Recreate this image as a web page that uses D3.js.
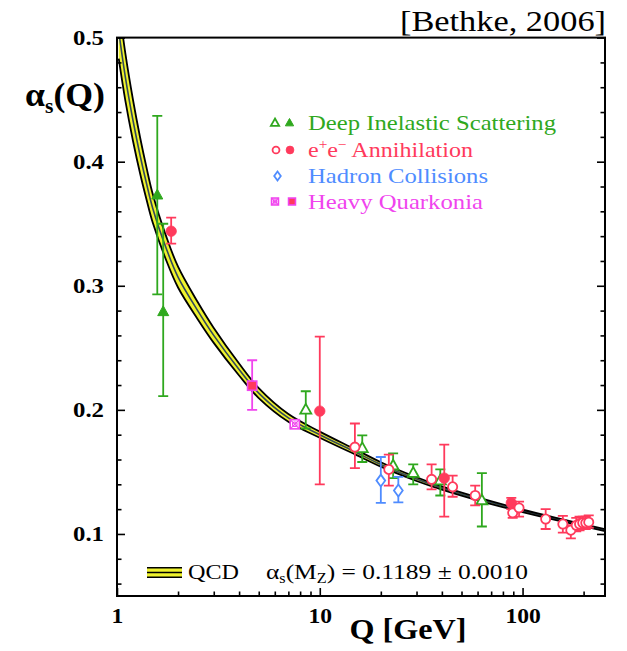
<!DOCTYPE html>
<html>
<head>
<meta charset="utf-8">
<script src="https://cdn.jsdelivr.net/npm/d3@7"></script>
<style>
  body { margin: 0; background: #fff; }
  svg { display: block; }
  text { font-family: "Liberation Serif", "Times New Roman", serif; }
</style>
</head>
<body>
<svg id="chart" width="627" height="651"></svg>
<script>
// QCD running coupling: central value and half-width of the band
const qcdQ     = [1.02, 1.1, 1.2, 1.3, 1.4, 1.5, 1.75, 2, 2.5, 3, 4, 5, 7, 10, 15, 20, 30, 40, 60, 91.2, 150, 255];
const qcdAlpha = [0.505, 0.468, 0.433, 0.405, 0.382, 0.3625, 0.330, 0.307, 0.280, 0.260, 0.2325, 0.2135, 0.1935, 0.1800, 0.1660, 0.1560, 0.1442, 0.1370, 0.1283, 0.1203, 0.1117, 0.1030];
const qcdErr   = [0.022, 0.019, 0.0165, 0.0145, 0.0128, 0.0115, 0.0096, 0.0084, 0.0069, 0.0060, 0.0048, 0.0040, 0.0031, 0.0025, 0.0021, 0.0018, 0.0015, 0.0013, 0.00117, 0.0010, 0.0009, 0.0008];

// Deep inelastic scattering
const disQ      = [1.58, 1.69, 8.53, 16.2, 23.0, 28.9, 39.3, 63.0];
const disAlpha  = [0.373, 0.279, 0.200, 0.169, 0.155, 0.149, 0.143, 0.127];
const disHi     = [0.437, 0.350, 0.215, 0.1795, 0.165, 0.156, 0.152, 0.149];
const disLo     = [0.293, 0.211, 0.185, 0.158, 0.145, 0.140, 0.131, 0.106];
const disFilled = [true, true, false, false, false, false, false, false];

// e+e- annihilation
const eeQ      = [1.85, 10.0, 14.9, 21.9, 35.6, 41.1, 45.2, 58.4, 88.0, 89.4, 96.1, 130, 158, 173, 184, 191, 198, 205, 212];
const eeAlpha  = [0.344, 0.199, 0.170, 0.152, 0.144, 0.145, 0.138, 0.131, 0.125, 0.117, 0.121, 0.112, 0.108, 0.103, 0.107, 0.108, 0.109, 0.109, 0.1095];
const eeHi     = [0.355, 0.259, 0.189, 0.164, 0.156, 0.172, 0.147, 0.139, 0.129, 0.122, 0.126, 0.120, 0.1145, 0.107, 0.113, 0.114, 0.114, 0.114, 0.115];
const eeLo     = [0.334, 0.140, 0.153, 0.139, 0.136, 0.114, 0.130, 0.123, 0.120, 0.113, 0.114, 0.104, 0.101, 0.0965, 0.102, 0.103, 0.104, 0.104, 0.105];
const eeFilled = [true, true, false, false, false, true, false, false, true, false, false, false, false, false, false, false, false, false, false];

// Hadron collisions
const hadQ     = [20.0, 24.4];
const hadAlpha = [0.143, 0.135];
const hadHi    = [0.162, 0.146];
const hadLo    = [0.125, 0.1255];

// Heavy quarkonia
const hqQ      = [4.64, 7.53];
const hqAlpha  = [0.2195, 0.1884];
const hqHi     = [0.240, 0.191];
const hqLo     = [0.200, 0.186];
const hqFilled = [true, false];

// Axis ticks
const yMajor = [0.1, 0.2, 0.3, 0.4, 0.5];
const yMinor = [0.06, 0.08, 0.12, 0.14, 0.16, 0.18, 0.22, 0.24, 0.26, 0.28, 0.32, 0.34, 0.36, 0.38, 0.42, 0.44, 0.46, 0.48];
const xMajor = [1, 10, 100];
const xMinor = [2, 3, 4, 5, 6, 7, 8, 9, 20, 30, 40, 50, 60, 70, 80, 90, 200];

const GREEN = "#2fa81e", RED = "#ff3a5c", BLUE = "#4f8cff", MAGENTA = "#f044ee";
const YELLOW = "#eef22e", SLATE = "#33495a";
const FONT = "'Liberation Serif','Times New Roman',serif";

const svg = d3.select("#chart");
const W = 627, H = 651;
const plotL = 117, plotR = 605, plotT = 37.6, plotB = 596;

svg.append("rect").attr("width", W).attr("height", H).attr("fill", "#fff");

const x = d3.scaleLog().domain([1, 255]).range([plotL, plotR]);
const y = d3.scaleLinear().domain([0.05, 0.5]).range([plotB, plotT]);

svg.append("defs").append("clipPath").attr("id", "plotArea")
  .append("rect").attr("x", plotL).attr("y", plotT).attr("width", plotR - plotL).attr("height", plotB - plotT);

// ---- QCD band ----
const qcd = qcdQ.map((q, i) => ({ q, a: qcdAlpha[i], e: qcdErr[i] }));
const smooth = d3.curveCatmullRom.alpha(0.5);
const bandG = svg.append("g").attr("clip-path", "url(#plotArea)");
bandG.append("path").datum(qcd)
  .attr("d", d3.area().x(d => x(d.q)).y0(d => y(d.a - d.e)).y1(d => y(d.a + d.e)).curve(smooth))
  .attr("fill", YELLOW);
bandG.append("path").datum(qcd)
  .attr("d", d3.line().x(d => x(d.q)).y(d => y(d.a)).curve(smooth))
  .attr("fill", "none").attr("stroke", SLATE).attr("stroke-width", 1.6);
[1, -1].forEach(s => {
  bandG.append("path").datum(qcd)
    .attr("d", d3.line().x(d => x(d.q)).y(d => y(d.a + s * d.e)).curve(smooth))
    .attr("fill", "none").attr("stroke", "#000").attr("stroke-width", 1.8);
});

// ---- axes ----
function styleAxis(g) {
  g.select(".domain").remove();
  g.selectAll(".tick line").attr("stroke", "#000").attr("stroke-width", 1.6);
  g.attr("font-family", FONT).attr("font-size", 21).attr("font-weight", "bold");
  g.selectAll(".tick text").attr("fill", "#000");
}
svg.append("g").attr("transform", `translate(${plotL},0)`)
  .call(d3.axisLeft(y).tickValues(yMajor).tickFormat(d3.format(".1f")).tickSize(-8).tickSizeOuter(0).tickPadding(13))
  .call(styleAxis)
  .call(g => g.selectAll(".tick text").attr("textLength", 31).attr("lengthAdjust", "spacingAndGlyphs"));
svg.append("g").attr("transform", `translate(${plotL},0)`)
  .call(d3.axisLeft(y).tickValues(yMinor).tickFormat("").tickSize(-4.5).tickSizeOuter(0))
  .call(styleAxis);
svg.append("g").attr("transform", `translate(${plotR},0)`)
  .call(d3.axisRight(y).tickValues(yMajor).tickFormat("").tickSize(-8).tickSizeOuter(0))
  .call(styleAxis);
svg.append("g").attr("transform", `translate(${plotR},0)`)
  .call(d3.axisRight(y).tickValues(yMinor).tickFormat("").tickSize(-4.5).tickSizeOuter(0))
  .call(styleAxis);
svg.append("g").attr("transform", `translate(0,${plotB})`)
  .call(d3.axisBottom(x).tickValues(xMajor).tickFormat(d3.format("d")).tickSize(-8).tickSizeOuter(0).tickPadding(12))
  .call(styleAxis)
  .call(g => g.selectAll(".tick text").each(function (d) {
    const n = String(d).length;
    d3.select(this).attr("textLength", n * 11.8).attr("lengthAdjust", "spacingAndGlyphs");
  }));
svg.append("g").attr("transform", `translate(0,${plotB})`)
  .call(d3.axisBottom(x).tickValues(xMinor).tickFormat("").tickSize(-4.5).tickSizeOuter(0))
  .call(styleAxis);

// frame
svg.append("rect").attr("x", plotL).attr("y", plotT).attr("width", plotR - plotL).attr("height", plotB - plotT)
  .attr("fill", "none").attr("stroke", "#000").attr("stroke-width", 2);

// ---- markers ----
function markerPath(shape, s) {
  if (shape === "tri") return `M0,${-6 * s}L${5.5 * s},${3.8 * s}L${-5.5 * s},${3.8 * s}Z`;
  if (shape === "diamond") return `M0,${-6 * s}L${4.4 * s},0L0,${6 * s}L${-4.4 * s},0Z`;
  return null;
}
function drawMarker(g, cx, cy, shape, filled, color, s) {
  const m = g.append("g").attr("transform", `translate(${cx},${cy})`);
  if (shape === "circle") {
    m.append("circle").attr("r", (filled ? 5.2 : 4.6) * s)
      .attr("fill", filled ? color : "#fff").attr("stroke", color).attr("stroke-width", filled ? 0.8 : 1.8);
  } else if (shape === "square") {
    const h = 4.6 * s;
    if (filled) {
      m.append("rect").attr("x", -h).attr("y", -h).attr("width", 2 * h).attr("height", 2 * h)
        .attr("fill", RED).attr("stroke", MAGENTA).attr("stroke-width", 1.6);
    } else {
      m.append("rect").attr("x", -h).attr("y", -h).attr("width", 2 * h).attr("height", 2 * h)
        .attr("fill", "#fff").attr("stroke", color).attr("stroke-width", 1.6);
      m.append("path").attr("d", `M${-h},${-h}L${h},${h}M${h},${-h}L${-h},${h}`)
        .attr("stroke", color).attr("stroke-width", 1.1);
      m.append("circle").attr("r", h * 0.5).attr("fill", "none").attr("stroke", color).attr("stroke-width", 1.1);
    }
  } else {
    m.append("path").attr("d", markerPath(shape, s))
      .attr("fill", filled ? color : "#fff").attr("stroke", color)
      .attr("stroke-width", filled ? 1 : 1.8).attr("stroke-linejoin", "miter");
  }
}

function drawSeries(Q, A, Hi, Lo, Filled, color, shape) {
  const g = svg.append("g");
  Q.forEach((q, i) => {
    const cx = x(q);
    g.append("path")
      .attr("d", `M${cx},${y(Hi[i])}V${y(Lo[i])}M${cx - 5},${y(Hi[i])}H${cx + 5}M${cx - 5},${y(Lo[i])}H${cx + 5}`)
      .attr("stroke", color).attr("stroke-width", 1.8).attr("fill", "none");
  });
  Q.forEach((q, i) => drawMarker(g, x(q), y(A[i]), shape, Filled[i], color, 1));
}

drawSeries(hqQ, hqAlpha, hqHi, hqLo, hqFilled, MAGENTA, "square");
drawSeries(disQ, disAlpha, disHi, disLo, disFilled, GREEN, "tri");
drawSeries(hadQ, hadAlpha, hadHi, hadLo, hadQ.map(() => false), BLUE, "diamond");
drawSeries(eeQ, eeAlpha, eeHi, eeLo, eeFilled, RED, "circle");

// ---- legend (process types) ----
const leg = svg.append("g");
const legendRows = [
  { y: 130, color: GREEN, shape: "tri", marks: [[275, false], [289.5, true]], width: 248 },
  { y: 157, color: RED, shape: "circle", marks: [[276, false], [290, true]], width: 165 },
  { y: 183, color: BLUE, shape: "diamond", marks: [[277.5, false]], width: 180 },
  { y: 208.5, color: MAGENTA, shape: "square", marks: [[275, false], [292, true]], width: 175 }
];
legendRows.forEach((r, i) => {
  r.marks.forEach(([mx, f]) => drawMarker(leg, mx, r.y - 7, r.shape, f, r.color, 0.75));
  const t = leg.append("text").attr("x", 308).attr("y", r.y).attr("font-size", 22).attr("fill", r.color)
    .attr("textLength", r.width).attr("lengthAdjust", "spacingAndGlyphs");
  if (i === 0) t.text("Deep Inelastic Scattering");
  if (i === 1) {
    t.append("tspan").text("e");
    t.append("tspan").attr("font-size", 14).attr("dy", -8).text("+");
    t.append("tspan").attr("dy", 8).text("e");
    t.append("tspan").attr("font-size", 14).attr("dy", -8).text("\u2212");
    t.append("tspan").attr("dy", 8).text(" Annihilation");
  }
  if (i === 2) t.text("Hadron Collisions");
  if (i === 3) t.text("Heavy Quarkonia");
});

// ---- QCD legend ----
const sw = svg.append("g");
sw.append("rect").attr("x", 147).attr("y", 567).attr("width", 35).attr("height", 11).attr("fill", YELLOW);
[567.8, 572.5, 577.2].forEach(yy =>
  sw.append("line").attr("x1", 147).attr("x2", 182).attr("y1", yy).attr("y2", yy)
    .attr("stroke", "#000").attr("stroke-width", 1.6));
svg.append("text").attr("x", 188).attr("y", 579).attr("font-size", 22).attr("fill", "#000")
  .attr("textLength", 51).attr("lengthAdjust", "spacingAndGlyphs").text("QCD");
const qt = svg.append("text").attr("x", 266).attr("y", 579).attr("font-size", 22).attr("fill", "#000")
  .attr("textLength", 262).attr("lengthAdjust", "spacingAndGlyphs");
qt.append("tspan").text("\u03b1");
qt.append("tspan").attr("font-size", 14).attr("dy", 4).text("s");
qt.append("tspan").attr("dy", -4).text("(M");
qt.append("tspan").attr("font-size", 14).attr("dy", 4).text("Z");
qt.append("tspan").attr("dy", -4).text(") = 0.1189 \u00b1 0.0010");

// ---- titles ----
svg.append("text").attr("x", 606).attr("y", 31).attr("text-anchor", "end").attr("font-size", 29)
  .attr("fill", "#000").attr("textLength", 206).attr("lengthAdjust", "spacingAndGlyphs").text("[Bethke, 2006]");

svg.append("text").attr("x", 408).attr("y", 639).attr("text-anchor", "middle").attr("font-size", 29)
  .attr("font-weight", "bold").attr("fill", "#000").attr("textLength", 117).attr("lengthAdjust", "spacingAndGlyphs")
  .text("Q [GeV]");

const yt = svg.append("text").attr("x", 25).attr("y", 106).attr("font-size", 33).attr("font-weight", "bold")
  .attr("fill", "#000").attr("textLength", 80).attr("lengthAdjust", "spacingAndGlyphs");
yt.append("tspan").text("\u03b1");
yt.append("tspan").attr("font-size", 20).attr("dy", 7).text("s");
yt.append("tspan").attr("dy", -7).text("(Q)");
</script>
</body>
</html>
